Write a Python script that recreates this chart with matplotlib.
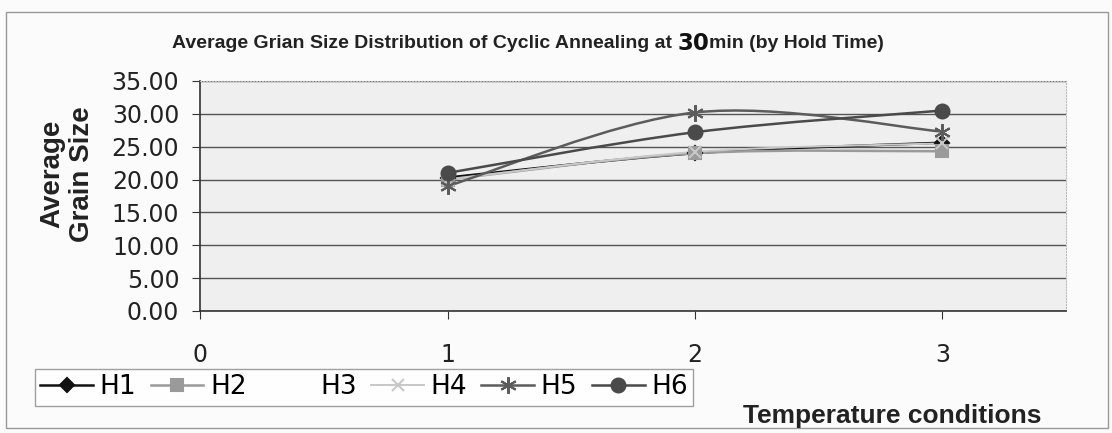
import numpy as np
import matplotlib
matplotlib.use("Agg")
import matplotlib.pyplot as plt
from matplotlib.path import Path
from matplotlib.patches import PathPatch, Rectangle
from matplotlib.lines import Line2D

# temperature condition index and average grain size per hold time
conditions = [1, 2, 3]
H1 = [20.3, 24.0, 25.6]
H2 = [20.0, 24.0, 24.3]
H3 = [np.nan, np.nan, np.nan]
H4 = [20.0, 24.2, 25.5]
H5 = [19.0, 30.2, 27.3]
H6 = [21.0, 27.2, 30.5]

series_names = ["H1", "H2", "H3", "H4", "H5", "H6"]
series_vals = [H1, H2, H3, H4, H5, H6]
colors = ["#111111", "#9a9a9a", "#ffffff", "#c8c8c8", "#5c5c5c", "#4a4a4a"]
markers = ["D", "s", "None", "x", (6, 2, 0), "o"]
msizes = [7, 8, 0, 8, 12, 10]
lwidths = [1.8, 1.8, 1.0, 1.4, 1.8, 1.8]

yticks = np.arange(0, 35.01, 5)
xticks = [0, 1, 2, 3]


def smooth_path(xs, ys):
    # Excel-style smoothed line: cubic Bezier segments through each point
    pts = np.column_stack([xs, ys])
    n = len(pts)
    verts = [pts[0]]
    codes = [Path.MOVETO]
    for i in range(n - 1):
        p_prev = pts[max(i - 1, 0)]
        p0 = pts[i]
        p1 = pts[i + 1]
        p_next = pts[min(i + 2, n - 1)]
        c1 = p0 + (p1 - p_prev) / 6.0
        c2 = p1 - (p_next - p0) / 6.0
        verts += [c1, c2, p1]
        codes += [Path.CURVE4] * 3
    return Path(verts, codes)


fig = plt.figure(figsize=(11.12, 4.33), dpi=100, facecolor="#fbfbfb")
ax = fig.add_axes([0.18, 0.282, 0.7786, 0.531])
ax.set_facecolor("#efefef")

handles = []
for name, vals, c, m, ms, lw in zip(series_names, series_vals, colors, markers, msizes, lwidths):
    vals = np.asarray(vals, dtype=float)
    if np.all(np.isfinite(vals)):
        path = smooth_path(np.asarray(conditions, float), vals)
        ax.add_patch(PathPatch(path, facecolor="none", edgecolor=c, lw=lw, zorder=3))
        ax.plot(conditions, vals, linestyle="none", marker=m, color=c, markersize=ms,
                markeredgewidth=1.5, zorder=4)
    handles.append(Line2D([], [], color=c, lw=lw, marker=m, markersize=ms,
                          markeredgewidth=1.5, label=name))

ax.set_xlim(0, 3.5)
ax.set_ylim(0, 35)
ax.set_yticks(yticks)
ax.set_yticklabels([f"{v:.2f}" for v in yticks], fontsize=17, color="#222222")
ax.set_xticks(xticks)
ax.set_xticklabels([str(v) for v in xticks], fontsize=17, color="#222222")
ax.tick_params(axis="y", direction="out", length=6, pad=9, color="#333333")
ax.tick_params(axis="x", direction="out", length=6, pad=17, color="#333333")
ax.grid(axis="y", color="#555555", lw=1.0)
ax.set_axisbelow(True)
for side in ["top", "right"]:
    ax.spines[side].set_color("#bbbbbb")
    ax.spines[side].set_linestyle(":")
for side in ["left", "bottom"]:
    ax.spines[side].set_color("#333333")
    ax.spines[side].set_linewidth(1.2)

fig.text(67 / 1112, 1 - 174 / 433, "Average\nGrain Size", rotation=90, ha="center",
         va="center", fontsize=20, fontweight="bold", family="Liberation Sans",
         color="#222222", linespacing=1.2)
fig.text(892 / 1112, 1 - 423 / 433, "Temperature conditions", ha="center", va="baseline",
         fontsize=19, fontweight="bold", family="Liberation Sans", color="#222222")

# title with a larger bold "30"
fig.canvas.draw()
renderer = fig.canvas.get_renderer()
ty = 1 - 44 / 433
t1 = fig.text(172 / 1112, ty, "Average Grian Size Distribution of Cyclic Annealing at ",
              ha="left", va="center", fontsize=14, fontweight="bold",
              family="Liberation Sans", color="#222222")
bb = t1.get_window_extent(renderer)
t2 = fig.text(bb.x1 / fig.bbox.width, ty, "30", ha="left", va="center",
              fontsize=16.5, fontweight="bold", family="DejaVu Sans", color="#111111")
bb2 = t2.get_window_extent(renderer)
fig.text(bb2.x1 / fig.bbox.width, ty, "min (by Hold Time)", ha="left", va="center",
         fontsize=14, fontweight="bold", family="Liberation Sans", color="#222222")

leg = fig.legend(handles=handles, loc="center", ncol=6, mode="expand",
                 bbox_to_anchor=(35 / 1112, 25 / 433, 658 / 1112, 41 / 433),
                 prop={"size": 19}, frameon=True, fancybox=False,
                 handlelength=2.0, handletextpad=0.25, borderaxespad=0, borderpad=0.2,
                 columnspacing=0.5)
leg.get_frame().set_edgecolor("#888888")
leg.get_frame().set_facecolor("white")
leg.get_frame().set_linewidth(1.0)

fig.patches.append(Rectangle((6 / 1112, 5 / 433), 1102 / 1112, 416 / 433,
                             transform=fig.transFigure, fill=False,
                             edgecolor="#999999", lw=1.0))

fig.savefig("out.png", dpi=100, facecolor=fig.get_facecolor())
